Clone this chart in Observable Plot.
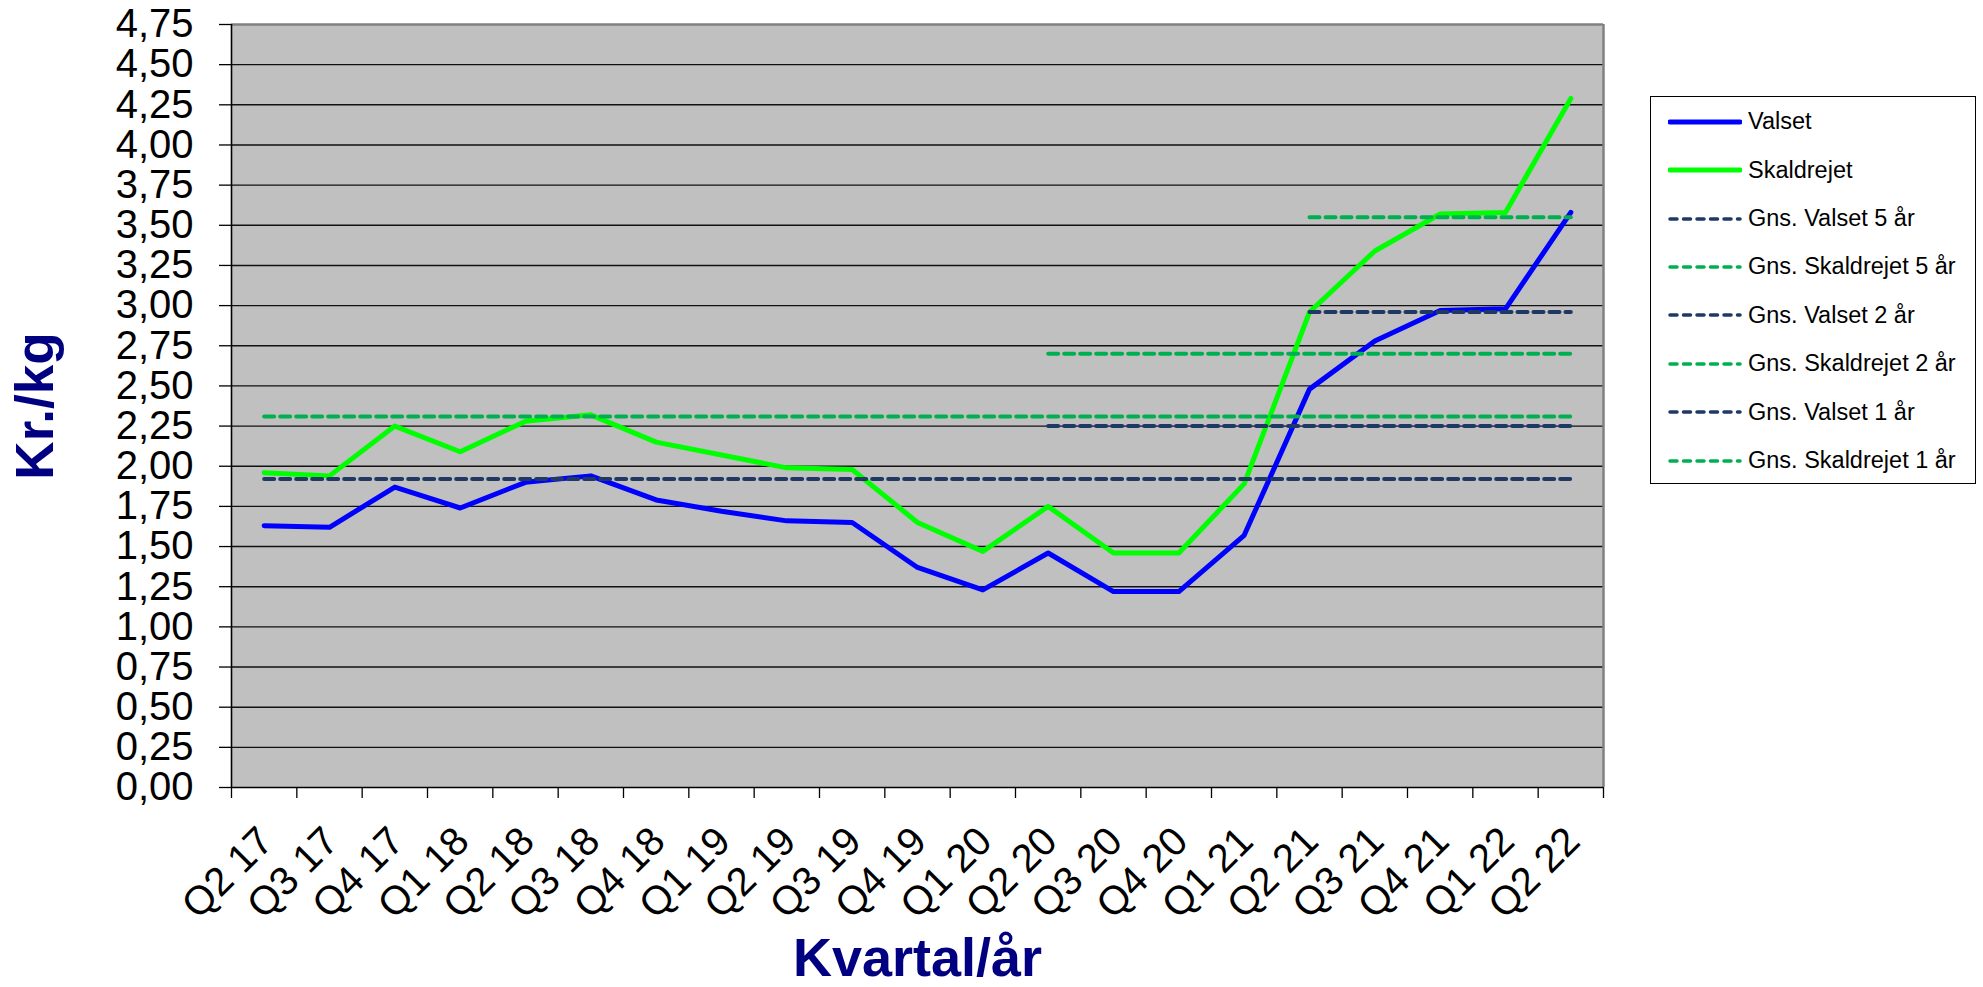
<!DOCTYPE html>
<html><head><meta charset="utf-8">
<script src="https://cdn.jsdelivr.net/npm/d3@7"></script>
<script src="https://cdn.jsdelivr.net/npm/@observablehq/plot@0.6"></script>
<style>
body{margin:0;background:#fff;font-family:"Liberation Sans",Arial,sans-serif;}
#wrap{position:relative;width:1983px;height:987px;overflow:hidden;}
#legend{position:absolute;left:1650px;top:96px;width:326px;height:388px;box-sizing:border-box;border:1.5px solid #000;background:#fff;}
.row{position:absolute;left:0;height:30px;display:flex;align-items:center;}
.row svg{display:block;}
.row span{font-size:23.5px;color:#000;margin-left:6px;white-space:nowrap;}
</style></head><body><div id="wrap"></div>
<script>
const quarters = ["Q2 17","Q3 17","Q4 17","Q1 18","Q2 18","Q3 18","Q4 18","Q1 19","Q2 19","Q3 19","Q4 19","Q1 20","Q2 20","Q3 20","Q4 20","Q1 21","Q2 21","Q3 21","Q4 21","Q1 22","Q2 22"];
const valset =     [1.63,1.62,1.87,1.74,1.90,1.94,1.79,1.72,1.66,1.65,1.37,1.23,1.46,1.22,1.22,1.57,2.48,2.78,2.97,2.98,3.58];
const skaldrejet = [1.96,1.94,2.25,2.09,2.28,2.32,2.15,2.07,1.99,1.98,1.65,1.47,1.75,1.46,1.46,1.89,2.96,3.34,3.57,3.58,4.29];
const seriesNames = ["Valset","Skaldrejet"];
const seriesColors = ["#0000FF","#00FF00"];

const averageNames  = ["Gns. Valset 5 år","Gns. Skaldrejet 5 år","Gns. Valset 2 år","Gns. Skaldrejet 2 år","Gns. Valset 1 år","Gns. Skaldrejet 1 år"];
const averageValues = [1.92, 2.31, 2.25, 2.70, 2.96, 3.55];
const averageFrom   = ["Q2 17","Q2 17","Q2 20","Q2 20","Q2 21","Q2 21"];
const averageTo     = ["Q2 22","Q2 22","Q2 22","Q2 22","Q2 22","Q2 22"];
const averageColors = ["#1F3864","#00B050","#1F3864","#00B050","#1F3864","#00B050"];

const yTicks = [0,0.25,0.5,0.75,1,1.25,1.5,1.75,2,2.25,2.5,2.75,3,3.25,3.5,3.75,4,4.25,4.5,4.75];
const yTickLabels = ["0,00","0,25","0,50","0,75","1,00","1,25","1,50","1,75","2,00","2,25","2,50","2,75","3,00","3,25","3,50","3,75","4,00","4,25","4,50","4,75"];

const idx = q => quarters.indexOf(q);
const seriesValues = [valset, skaldrejet];
const lineRows = seriesNames.flatMap((s, k) => quarters.map((q, i) => ({series: s, color: seriesColors[k], i, value: seriesValues[k][i]})));
const avgRows = averageNames.flatMap((name, k) => [
  {name, color: averageColors[k], i: idx(averageFrom[k]), value: averageValues[k]},
  {name, color: averageColors[k], i: idx(averageTo[k]), value: averageValues[k]}
]);
const boundaries = quarters.map((q, i) => i - 0.5).concat([quarters.length - 0.5]);
const gridTicks = yTicks.filter(t => t > 0 && t < 4.75);

const chart = Plot.plot({
  width: 1983, height: 987,
  marginLeft: 231, marginRight: 380, marginTop: 24, marginBottom: 200,
  x: {type: "linear", domain: [-0.5, quarters.length - 0.5]},
  y: {domain: [0, 4.75]},
  style: {fontFamily: "'Liberation Sans', Arial, sans-serif", color: "#000", background: "transparent", overflow: "visible"},
  marks: [
    Plot.frame({fill: "#C0C0C0", stroke: null}),
    Plot.ruleY(gridTicks, {stroke: "#111", strokeWidth: 1.4}),
    Plot.ruleY([4.75], {stroke: "#808080", strokeWidth: 2.5}),
    Plot.ruleX([quarters.length - 0.5], {stroke: "#808080", strokeWidth: 2.5}),
    Plot.ruleX([-0.5], {stroke: "#000", strokeWidth: 1.6}),
    Plot.ruleY([0], {stroke: "#000", strokeWidth: 1.6}),
    Plot.axisY({ticks: yTicks, tickFormat: d => yTickLabels[yTicks.indexOf(d)], tickSize: 12, tickPadding: 26, fontSize: 40, label: null, strokeWidth: 1.3}),
    Plot.axisX({ticks: boundaries, tickFormat: () => "", tickSize: 11, label: null, strokeWidth: 1.3}),
    Plot.text(quarters, {x: (d, i) => i, text: d => d, frameAnchor: "bottom", dy: 47, dx: 2, rotate: -45, textAnchor: "end", lineAnchor: "middle", fontSize: 40, fill: "#000"}),
    Plot.line(lineRows, {x: "i", y: "value", z: "series", stroke: "color", strokeWidth: 5}),
    Plot.line(avgRows, {x: "i", y: "value", z: "name", stroke: "color", strokeWidth: 4, strokeDasharray: "10,6"}),
    Plot.text(["Kr./kg"], {text: d => d, frameAnchor: "left", dx: -195, rotate: -90, textAnchor: "middle", lineAnchor: "middle", fontSize: 53, fontWeight: "bold", fill: "#000080"}),
    Plot.text(["Kvartal/år"], {text: d => d, frameAnchor: "bottom", dy: 171, textAnchor: "middle", lineAnchor: "middle", fontSize: 54, fontWeight: "bold", fill: "#000080"})
  ]
});
const wrap = document.getElementById("wrap");
wrap.appendChild(chart);

// Legend
const legendItems = seriesNames.map((n, k) => ({name: n, color: seriesColors[k], dashed: false}))
  .concat(averageNames.map((n, k) => ({name: n, color: averageColors[k], dashed: true})));
const legend = d3.select(wrap).append("div").attr("id", "legend");
legendItems.forEach((item, k) => {
  const row = legend.append("div").attr("class", "row").style("top", (24.7 + k * 48.4 - 15) + "px").style("left", "17px");
  const svg = row.append("svg").attr("width", 74).attr("height", 30);
  svg.append("line").attr("x1", 2).attr("x2", 72).attr("y1", 15).attr("y2", 15)
    .attr("stroke", item.color).attr("stroke-width", item.dashed ? 3.5 : 5)
    .attr("stroke-linecap", "round")
    .attr("stroke-dasharray", item.dashed ? "7,6.5" : null);
  row.append("span").text(item.name);
});
</script>
</body></html>
